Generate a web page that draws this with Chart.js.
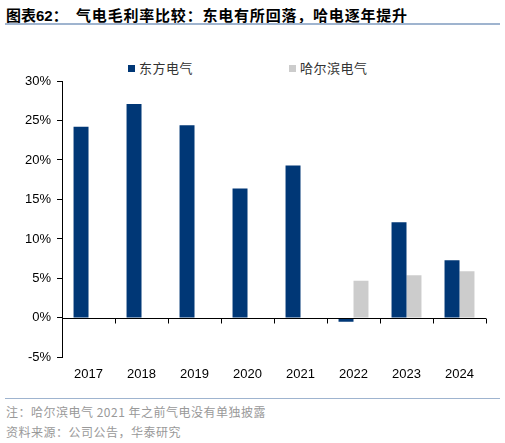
<!DOCTYPE html>
<html>
<head>
<meta charset="utf-8">
<script src="https://cdn.jsdelivr.net/npm/chart.js@4"></script>
<style>
  html, body { margin: 0; padding: 0; background: #fff; }
  body { width: 505px; height: 443px; position: relative; overflow: hidden;
         font-family: "Liberation Sans", Arial, "Noto Sans CJK SC", sans-serif; }
  #title { position: absolute; left: 6px; top: 4px; font-size: 15px; font-weight: bold;
           color: #000; white-space: nowrap; font-family: "Liberation Sans", Arial, "Noto Sans CJK SC", sans-serif; }
  #title span { letter-spacing: 0.8px; }
  .rule { position: absolute; left: 5px; width: 495px; height: 2px; background: #9fb4cf; }
  #legend { position: absolute; top: 60px; left: 0; width: 505px; height: 16px; }
  .item { position: absolute; top: 0; font-size: 13px; color: #333; white-space: nowrap;
          font-family: "Noto Sans CJK SC", sans-serif; line-height: 16px; letter-spacing: 0.5px; }
  .item i { display: inline-block; width: 7px; height: 7px; margin-right: 4px; vertical-align: 1px; }
  .note { position: absolute; left: 6px; font-size: 12px; color: #999; white-space: nowrap;
          letter-spacing: 0.5px; font-family: "Noto Sans CJK SC", "Liberation Sans", sans-serif; }
  #wrap { position: absolute; left: 0; top: 30px; width: 505px; height: 365px; }
</style>
</head>
<body>
<div id="title">图表62：&nbsp;&nbsp;<span>气电毛利率比较：东电有所回落，哈电逐年提升</span></div>
<div class="rule" style="top:23px"></div>
<div id="legend"></div>
<div id="wrap"><canvas id="gm"></canvas></div>
<div class="rule" style="top:398px;height:1px"></div>
<div class="note" style="top:403px">注：哈尔滨电气 2021 年之前气电没有单独披露</div>
<div class="note" style="top:423px">资料来源：公司公告，华泰研究</div>
<script>
  var years = ["2017", "2018", "2019", "2020", "2021", "2022", "2023", "2024"];
  var dongfang = [24.2, 27.1, 24.4, 16.4, 19.3, -0.5, 12.1, 7.3];
  var harbin = [null, null, null, null, null, 4.7, 5.4, 5.9];
  var seriesNames = ["东方电气", "哈尔滨电气"];
  var seriesColors = ["#003776", "#cccccc"];
  var legendX = [128, 289];

  // zero line with category ticks, like the x axis sits at 0%
  var zeroAxis = {
    id: "zeroAxis",
    afterDatasetsDraw: function (chart) {
      var x = chart.scales.x, y = chart.scales.y, ctx = chart.ctx;
      var y0 = Math.round(y.getPixelForValue(0)) + 0.5;
      ctx.save();
      ctx.strokeStyle = "#000";
      ctx.lineWidth = 1;
      ctx.beginPath();
      ctx.moveTo(chart.chartArea.left, y0);
      ctx.lineTo(chart.chartArea.right, y0);
      for (var i = 1; i <= years.length; i++) {
        var bx = i < years.length
          ? (x.getPixelForValue(i - 1) + x.getPixelForValue(i)) / 2
          : chart.chartArea.right;
        bx = Math.round(bx) + 0.5;
        ctx.moveTo(bx, y0);
        ctx.lineTo(bx, y0 + 5);
      }
      ctx.stroke();
      ctx.restore();
    }
  };

  var ctx = document.getElementById("gm").getContext("2d");
  var chart = new Chart(ctx, {
    type: "bar",
    data: {
      labels: years,
      datasets: [
        { label: seriesNames[0], data: dongfang, backgroundColor: seriesColors[0] },
        { label: seriesNames[1], data: harbin, backgroundColor: seriesColors[1] }
      ]
    },
    options: {
      responsive: true,
      maintainAspectRatio: false,
      animation: false,
      datasets: { bar: { categoryPercentage: 0.565, barPercentage: 1 } },
      layout: { padding: { top: 51, right: 19, bottom: 12, left: 19 } },
      plugins: { legend: { display: false }, tooltip: { enabled: false } },
      scales: {
        x: {
          grid: { display: false },
          border: { display: false },
          ticks: { color: "#000", padding: 1, font: { family: "Liberation Sans", size: 13 } }
        },
        y: {
          min: -5,
          max: 30,
          grid: { drawOnChartArea: false, tickLength: 5, color: "#000" },
          border: { color: "#000", width: 1 },
          ticks: {
            stepSize: 5,
            padding: 6,
            color: "#000",
            font: { family: "Liberation Sans", size: 13 },
            callback: function (v) { return v + "%"; }
          }
        }
      }
    },
    plugins: [zeroAxis]
  });

  // legend as page text, built from the datasets
  var legend = document.getElementById("legend");
  chart.data.datasets.forEach(function (ds, i) {
    var el = document.createElement("span");
    el.className = "item";
    el.style.left = legendX[i] + "px";
    el.innerHTML = '<i style="background:' + ds.backgroundColor + '"></i>' + ds.label;
    legend.appendChild(el);
  });
</script>
</body>
</html>
